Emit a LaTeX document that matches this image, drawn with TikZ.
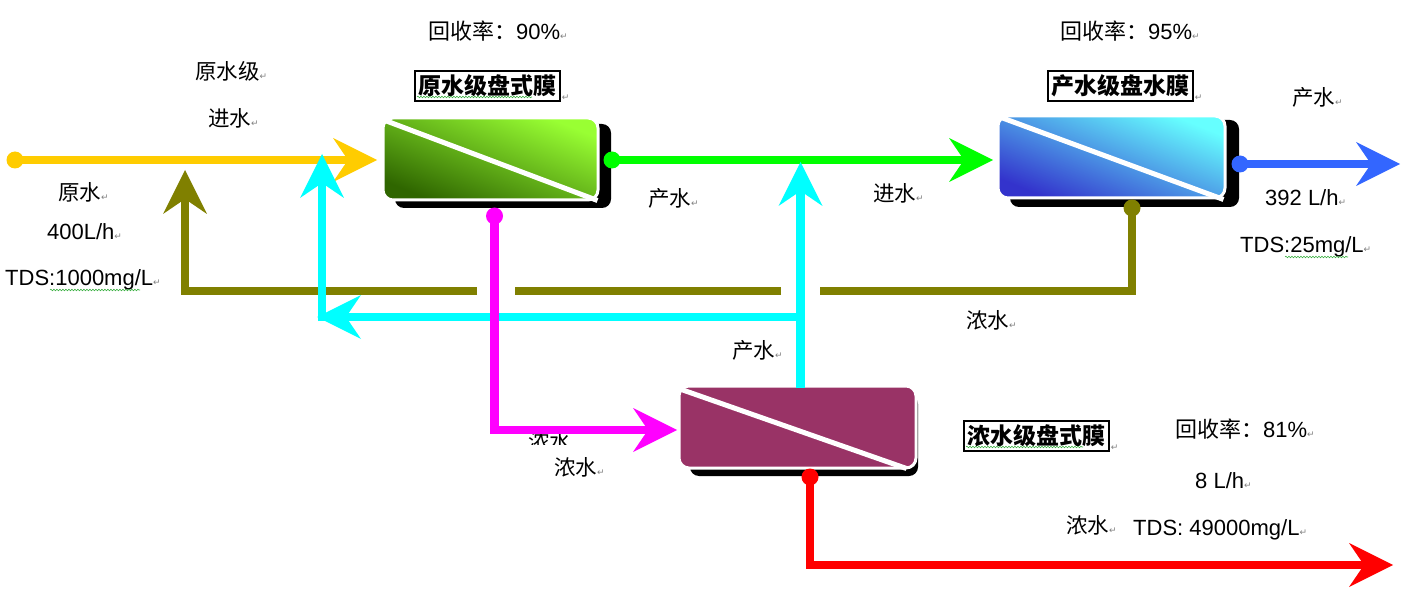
\documentclass[tikz,border=0pt]{standalone}
\usepackage{fontspec}
\setmainfont{Liberation Sans}
\newfontfamily\cjk{Noto Sans CJK SC}
\newfontfamily\dejavu{DejaVu Sans}
\usetikzlibrary{arrows.meta,decorations.pathmorphing}
\definecolor{cyellow}{HTML}{FFCC00}
\definecolor{cgreen}{HTML}{00FF00}
\definecolor{cblue}{HTML}{3366FF}
\definecolor{colive}{HTML}{808000}
\definecolor{ccyan}{HTML}{00FFFF}
\definecolor{cmag}{HTML}{FF00FF}
\definecolor{cred}{HTML}{FF0000}
\definecolor{gLight}{HTML}{99FF33}
\definecolor{gMid}{HTML}{74C72B}
\definecolor{gDark}{HTML}{2F6600}
\definecolor{bLight}{HTML}{66FFFF}
\definecolor{bMid}{HTML}{55AAE2}
\definecolor{bDark}{HTML}{3333CC}
\definecolor{cpurple}{HTML}{993366}
\definecolor{squig}{HTML}{3CB043}
\newcommand\retmark{{\dejavu\fontsize{9}{9}\selectfont\textcolor{gray}{↵}}}
\begin{document}
\begin{tikzpicture}[x=1pt,y=-1pt,
  flow/.style={line width=8.5pt},
  bigarrow/.style={-{Stealth[length=44pt,width=44pt,inset=15pt,line width=0pt]}},
  dotnode/.style={circle, inner sep=0pt, minimum size=17pt},
  txt/.style={inner sep=0pt, font=\fontsize{22}{26}\selectfont},
  cjtxt/.style={inner sep=0pt, anchor=west, font=\cjk\fontsize{21.5}{26}\selectfont},
  ttl/.style={draw=black, line width=1.3pt, inner sep=0pt, minimum width=145pt, minimum height=30pt, font=\cjk\bfseries\fontsize{23}{26}\selectfont},
  membrane/.style={rounded corners=10pt, draw=white, line width=3pt, minimum height=82pt, inner sep=0pt},
  shadowbox/.style={fill=black, rounded corners=9pt},
  diag/.style={white, line width=5pt},
  spell/.style={squig, line width=0.6pt, decorate, decoration={snake, segment length=3pt, amplitude=0.8pt}},
]
\useasboundingbox (0,0) rectangle (1406,596);

% ---- membranes ----
\fill[shadowbox] (395,124) rectangle (611,208);
\fill[shadowbox] (1010,120) rectangle (1239,207);
\fill[shadowbox] (690,395) rectangle (918,476);
\node[membrane, minimum width=215pt, top color=gLight, middle color=gMid, bottom color=gDark, shading angle=-22] (m1) at (490.5,159) {};
\node[membrane, minimum width=227pt, top color=bLight, middle color=bMid, bottom color=bDark, shading angle=-22] (m2) at (1111.5,157) {};
\node[membrane, minimum width=237pt, fill=cpurple] (m3) at (797.5,427) {};
\draw[diag] ([xshift=1pt,yshift=-3pt]m1.north west) -- ([xshift=-2pt,yshift=1pt]m1.south east);
\draw[diag] ([xshift=2pt,yshift=-2pt]m2.north west) -- ([xshift=-3pt,yshift=0pt]m2.south east);
\draw[diag] ([xshift=1pt,yshift=-4pt]m3.north west) -- ([xshift=-11pt,yshift=1pt]m3.south east);

% ---- connector coordinates ----
\coordinate (yT) at (377,160);
\coordinate (gT) at (993,160);
\coordinate (bT) at (1400,164);
\coordinate (oC) at (1132,291);
\coordinate (o1) at (820,291);
\coordinate (o2) at (781,291);
\coordinate (o3) at (515,291);
\coordinate (o4) at (477,291);
\coordinate (oT) at (185,170);
\coordinate (c0) at (800.5,388);
\coordinate (cT1) at (800.5,162);
\coordinate (c1) at (805,317);
\coordinate (cT2) at (317,317);
\coordinate (c2) at (322,321);
\coordinate (cT3) at (322,154);
\coordinate (mT) at (677,430);
\coordinate (rT) at (1393,565);

% hidden label under the magenta line
\begin{scope}
\clip (520,434) rectangle (600,444);
\node[cjtxt] (hid) at (528,441) {浓水};
\end{scope}

% ---- connectors ----
\node[dotnode, fill=cyellow] (y0) at (15,160) {};
\draw[flow, cyellow, bigarrow] (y0.center) -- (yT);
\node[dotnode, fill=cgreen] (g0) at (612,160) {};
\draw[flow, cgreen, bigarrow] (g0.center) -- (gT);
\node[dotnode, fill=cblue] (b0) at (1240,164) {};
\draw[flow, cblue, bigarrow] (b0.center) -- (bT);
\node[dotnode, fill=colive] (o0) at (1132,208) {};
\draw[flow, colive] (o0.center) -- (oC) -- (o1);
\draw[flow, colive] (o2) -- (o3);
\draw[flow, colive, bigarrow] (o4) -| (oT);
\draw[flow, ccyan, bigarrow] (c0) -- (cT1);
\draw[flow, ccyan, bigarrow] (c1) -- (cT2);
\draw[flow, ccyan, bigarrow] (c2) -- (cT3);
\node[dotnode, fill=cmag] (mg0) at (494.5,216) {};
\draw[flow, cmag, bigarrow] (mg0.center) |- (mT);
\node[dotnode, fill=cred] (r0) at (810,477) {};
\draw[flow, cred, bigarrow] (r0.center) |- (rT);

% ---- titles ----
\node[ttl] (t1) at (487.5,86) {原水级盘式膜};
\node[inner sep=1pt, anchor=south west] (t1r) at (t1.south east) {\retmark};
\node[ttl] (t2) at (1120.5,86) {产水级盘水膜};
\node[inner sep=1pt, anchor=south west] (t2r) at (t2.south east) {\retmark};
\node[ttl] (t3) at (1036.5,436) {浓水级盘式膜};
\node[inner sep=1pt, anchor=south west] (t3r) at (t3.south east) {\retmark};

% ---- labels ----
\node[txt, anchor=base west] (r1) at (428,40) {{\cjk 回收率：}90\%\retmark};
\node[txt, anchor=base west] (r2) at (1060,40) {{\cjk 回收率：}95\%\retmark};
\node[txt, anchor=base west] (r3) at (1175,437) {{\cjk 回收率：}81\%\retmark};
\node[cjtxt] (l1) at (195,71) {原水级\retmark};
\node[cjtxt] (l2) at (208,118) {进水\retmark};
\node[cjtxt] (l3) at (58,192) {原水\retmark};
\node[txt, anchor=base west] (l4) at (47,240) {400L/h\retmark};
\node[txt, anchor=base west] (l5) at (5,286) {TDS:1000mg/L\retmark};
\node[cjtxt] (l6) at (648,198) {产水\retmark};
\node[cjtxt] (l7) at (873,193) {进水\retmark};
\node[cjtxt] (l8) at (1292,97) {产水\retmark};
\node[txt, anchor=base west] (l9) at (1265,206) {392 L/h\retmark};
\node[txt, anchor=base west] (l10) at (1240,253) {TDS:25mg/L\retmark};
\node[cjtxt] (l11) at (966,320) {浓水\retmark};
\node[cjtxt] (l12) at (732,350) {产水\retmark};
\node[txt, anchor=base west] (l13) at (1195,488) {8 L/h\retmark};
\node[cjtxt] (l14) at (1066,525) {浓水\retmark};
\node[txt, anchor=base west] (l15) at (1133,535) {TDS: 49000mg/L\retmark};
\node[cjtxt] (l16) at (554,467) {浓水\retmark};

% ---- spell-check underlines ----
\coordinate (s1a) at (50,290); \coordinate (s1b) at (140,290);
\coordinate (s2a) at (1285,257); \coordinate (s2b) at (1348,257);
\coordinate (s3a) at (417,97); \coordinate (s3b) at (532,97);
\coordinate (s4a) at (966,447); \coordinate (s4b) at (1083,447);
\draw[spell] (s1a) -- (s1b);
\draw[spell] (s2a) -- (s2b);
\draw[spell] (s3a) -- (s3b);
\draw[spell] (s4a) -- (s4b);
\end{tikzpicture}
\end{document}
